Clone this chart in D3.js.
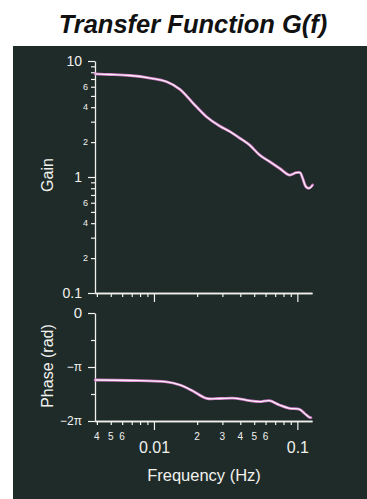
<!DOCTYPE html>
<html><head><meta charset="utf-8">
<script src="https://cdn.jsdelivr.net/npm/d3@7"></script>
<style>
html,body{margin:0;padding:0;background:#fff;}
svg{display:block;font-family:"Liberation Sans",Arial,Helvetica,sans-serif;}
</style></head>
<body>
<svg id="c" width="367" height="499"></svg>
<script>
// ---- data ----
const titleText = "Transfer Function G(f)";
const gainFreq = [0.00389,0.00495,0.00681,0.00938,0.01225,0.01517,0.01868,0.02323,0.0287,0.0339,0.0395,0.0464,0.0545,0.0639,0.075,0.088,0.098,0.1044,0.1089,0.1148,0.121,0.1277];
const gainVal  = [7.73,7.65,7.50,7.13,6.63,5.70,4.35,3.31,2.75,2.46,2.17,1.89,1.55,1.36,1.19,1.04,1.09,1.09,0.975,0.824,0.80,0.853];
const phaseFreq = [0.00389,0.00681,0.0119,0.01517,0.01868,0.02323,0.0287,0.0375,0.0464,0.0545,0.0639,0.075,0.088,0.1033,0.1119,0.121,0.1244];
const phasePi   = [-1.241,-1.25,-1.272,-1.333,-1.444,-1.58,-1.583,-1.58,-1.624,-1.643,-1.624,-1.704,-1.765,-1.783,-1.857,-1.931,-1.939];
const xMajor = [0.01, 0.1];
const xMinor = [0.004,0.005,0.006,0.007,0.008,0.009,0.02,0.03,0.04,0.05,0.06,0.07,0.08,0.09];
const xMinorLabels = [0.004,0.005,0.006,0.02,0.03,0.04,0.05,0.06];
const gainMajor = [0.1, 1, 10];
const gainMinor = [0.2,0.3,0.4,0.5,0.6,0.7,0.8,0.9,2,3,4,5,6,7,8,9];
const gainMinorLabels = [0.2,0.4,0.6,2,4,6];
const phaseMajor = [0, -Math.PI, -2*Math.PI];
const phaseMajorLabels = ["0", "\u2212\u03c0", "\u22122\u03c0"];
const phaseMinor = [-Math.PI/2, -3*Math.PI/2];

// ---- layout ----
const svg = d3.select("#c");
const fg = "#f1f1ee";
svg.append("rect").attr("x",13).attr("y",46).attr("width",354).attr("height",453).attr("fill","#1f2b28");

svg.append("text").attr("x",193).attr("y",33).attr("text-anchor","middle")
  .attr("font-size",25.5).attr("font-weight","bold").attr("font-style","italic").attr("fill","#111")
  .text(titleText);

const x = d3.scaleLog().domain([0.00388, 0.1265]).range([95, 312]);
const yG = d3.scaleLog().domain([0.1, 10]).range([293, 61]);
const yP = d3.scaleLinear().domain([-2*Math.PI, 0]).range([421, 313]);

function styleAxis(g){
  g.selectAll(".domain").attr("stroke",fg).attr("stroke-width",1.3);
  g.selectAll(".tick line").attr("stroke",fg).attr("stroke-width",1.2);
  g.selectAll("text").attr("fill",fg).attr("font-family","Liberation Sans, Arial, sans-serif");
}

// Gain panel axes
const gx1 = svg.append("g").attr("transform","translate(0,293)")
  .call(d3.axisBottom(x).tickValues(xMinor).tickSize(4).tickSizeOuter(0).tickFormat(""));
styleAxis(gx1);
const gx2 = svg.append("g").attr("transform","translate(0,293)")
  .call(d3.axisBottom(x).tickValues(xMajor).tickSize(9).tickSizeOuter(0).tickFormat(""));
styleAxis(gx2);

const gy1 = svg.append("g").attr("transform","translate(95,0)")
  .call(d3.axisLeft(yG).tickValues(gainMinor).tickSize(4).tickSizeOuter(0).tickFormat(""));
styleAxis(gy1);
const gy2 = svg.append("g").attr("transform","translate(95,0)")
  .call(d3.axisLeft(yG).tickValues(gainMajor).tickSize(7).tickSizeOuter(0)
    .tickPadding(6).tickFormat(d => d===0.1 ? "0.1" : String(d)));
styleAxis(gy2);
gy2.selectAll("text").attr("font-size",14);
gy2.selectAll(".domain").remove();
// small minor labels on gain axis
svg.append("g").selectAll("text").data(gainMinorLabels).join("text")
  .attr("x",88).attr("y",d=>yG(d)).attr("dy","0.35em").attr("text-anchor","end")
  .attr("font-size",9).attr("fill",fg).text(d => String(d >= 1 ? d : Math.round(d*10)));

svg.append("text").attr("transform","translate(53,175) rotate(-90)").attr("text-anchor","middle")
  .attr("font-size",16).attr("fill",fg).text("Gain");

// Phase panel axes
const px1 = svg.append("g").attr("transform","translate(0,421)")
  .call(d3.axisBottom(x).tickValues(xMinor).tickSize(4).tickSizeOuter(0).tickFormat(""));
styleAxis(px1);
const px2 = svg.append("g").attr("transform","translate(0,421)")
  .call(d3.axisBottom(x).tickValues(xMajor).tickSize(9).tickSizeOuter(0).tickPadding(12)
    .tickFormat(d => d===0.01 ? "0.01" : "0.1"));
styleAxis(px2);
px2.selectAll("text").attr("font-size",16);
svg.append("g").selectAll("text").data(xMinorLabels).join("text")
  .attr("x",d=>x(d)).attr("y",440).attr("text-anchor","middle")
  .attr("font-size",10).attr("fill",fg).text(d => String(Math.round(d / Math.pow(10, Math.floor(Math.log10(d)+1e-9)))));

const py1 = svg.append("g").attr("transform","translate(95,0)")
  .call(d3.axisLeft(yP).tickValues(phaseMinor).tickSize(4).tickSizeOuter(0).tickFormat(""));
styleAxis(py1);
const py2 = svg.append("g").attr("transform","translate(95,0)")
  .call(d3.axisLeft(yP).tickValues(phaseMajor).tickSize(7).tickSizeOuter(0).tickPadding(6)
    .tickFormat((d,i) => phaseMajorLabels[i]));
styleAxis(py2);
py2.selectAll(".domain").remove();
py2.selectAll("text").attr("font-size", (d,i)=> i===0 ? 15 : 12);

svg.append("text").attr("transform","translate(53,366) rotate(-90)").attr("text-anchor","middle")
  .attr("font-size",16).attr("fill",fg).text("Phase (rad)");

svg.append("text").attr("x",204).attr("y",481).attr("text-anchor","middle")
  .attr("font-size",16.5).attr("fill",fg).text("Frequency (Hz)");

// curves
const gainData = gainFreq.map((f,i)=>({f, v:gainVal[i]}));
const phaseData = phaseFreq.map((f,i)=>({f, v:phasePi[i]*Math.PI}));
const lg = d3.line().x(d=>x(d.f)).y(d=>yG(d.v)).curve(d3.curveCatmullRom.alpha(0.5));
const lp = d3.line().x(d=>x(d.f)).y(d=>yP(d.v)).curve(d3.curveCatmullRom.alpha(0.5));
[[gainData,lg],[phaseData,lp]].forEach(([data,gen])=>{
  svg.append("path").datum(data).attr("d",gen).attr("fill","none")
    .attr("stroke","#cf78c3").attr("stroke-width",2.8).attr("stroke-linejoin","round").attr("stroke-linecap","round");
  svg.append("path").datum(data).attr("d",gen).attr("fill","none")
    .attr("stroke","#f8ecf6").attr("stroke-width",1.3).attr("stroke-linejoin","round");
});
</script>
</body></html>
